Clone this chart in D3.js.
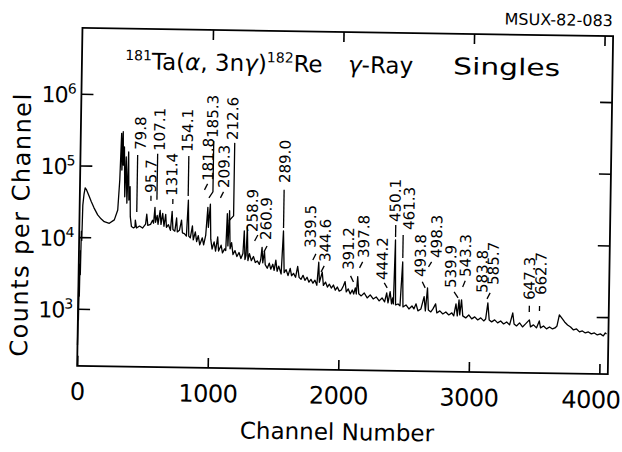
<!DOCTYPE html>
<html>
<head>
<meta charset="utf-8">
<script src="https://cdn.jsdelivr.net/npm/d3@7"></script>
<style>
  body { margin: 0; background: #fff; }
  svg { display: block; }
  text { font-family: "DejaVu Sans", sans-serif; fill: #000; }
</style>
</head>
<body>
<svg id="chart" width="622" height="452"></svg>
<script>
// gamma-ray singles spectrum (channel, counts per channel)
var channels = [0, 2, 4, 6, 8, 10, 13, 16, 20, 24, 32, 40, 51, 70, 88, 110, 139, 165, 190, 229, 267, 292,
    304, 313, 319, 325, 330, 336, 344, 351, 361, 369, 376, 384, 389, 399, 415, 426, 428, 438, 461, 484,
    507, 515, 524, 545, 560, 568, 577, 583, 595, 602, 617, 625, 637, 648, 660, 667, 682, 698, 709, 717,
    732, 744, 751, 767, 782, 790, 805, 821, 832, 839, 851, 866, 874, 889, 900, 912, 924, 943, 954, 969,
    982, 988, 1001, 1008, 1019, 1034, 1046, 1061, 1069, 1088, 1099, 1115, 1124, 1132, 1140, 1149, 1157,
    1168, 1180, 1195, 1210, 1226, 1241, 1256, 1264, 1272, 1280, 1287, 1295, 1306, 1321, 1337, 1352,
    1367, 1383, 1393, 1402, 1409, 1421, 1428, 1444, 1459, 1471, 1486, 1497, 1509, 1520, 1532, 1551,
    1564, 1574, 1589, 1604, 1620, 1631, 1646, 1662, 1677, 1689, 1704, 1719, 1734, 1750, 1765, 1780,
    1796, 1811, 1826, 1838, 1845, 1866, 1876, 1892, 1907, 1922, 1937, 1953, 1968, 1983, 1998, 2014,
    2029, 2042, 2052, 2067, 2083, 2098, 2109, 2121, 2129, 2138, 2148, 2167, 2190, 2213, 2236, 2259,
    2282, 2305, 2327, 2347, 2362, 2373, 2388, 2400, 2408, 2414, 2423, 2431, 2450, 2465, 2481, 2488,
    2511, 2534, 2557, 2572, 2588, 2603, 2626, 2649, 2660, 2674, 2683, 2702, 2718, 2738, 2748, 2771,
    2794, 2817, 2840, 2863, 2878, 2894, 2905, 2917, 2924, 2936, 2947, 2970, 2993, 3016, 3039, 3062,
    3085, 3108, 3123, 3138, 3150, 3169, 3192, 3215, 3238, 3261, 3284, 3307, 3330, 3341, 3360, 3383,
    3406, 3429, 3458, 3467, 3490, 3513, 3534, 3544, 3567, 3590, 3613, 3636, 3655, 3670, 3687, 3705,
    3728, 3751, 3774, 3797, 3820, 3843, 3865, 3888, 3911, 3934, 3957, 3980, 4003, 4026, 4041, 4050];
var counts = [313, 2400, 700, 4200, 1500, 6500, 3000, 12000, 9000, 28000, 40000, 48600, 45700, 37800,
    31500, 25800, 20600, 18200, 16600, 15800, 17700, 24400,
    64000, 286000, 88000, 302000, 103000, 186000, 37400, 135000, 30500, 158000, 33700, 51800, 19800,
    14400, 13800, 14200, 17800, 13800, 14700, 13800,
    15700, 21600, 15100, 15600, 17800, 16200, 27000, 16700, 20900, 15700, 24600, 15700, 22400, 14800,
    21700, 14300, 15600, 13000, 24000, 13400,
    12700, 19400, 12400, 13100, 18200, 12100, 11800, 10900, 34700, 10900, 10300, 15200, 9700, 12500,
    9200, 11100, 8300, 10400, 8300, 11400,
    27800, 14600, 30800, 10000, 7300, 9200, 6850, 10800, 6850, 8300, 6490, 7380, 7000, 22800, 8130,
    25200, 7400,
    9060, 6170, 7010, 5800, 6600, 5460, 6400, 13300, 5290, 6000, 15200, 5130, 6420, 5130, 5850, 4840,
    5090, 4560, 5300, 7890, 4800, 6970, 4530, 4050, 4760, 3930, 4610, 3800, 5260, 3690, 4360, 3390,
    13500, 3540, 3900, 3230, 4080, 3220, 3480, 3070, 4370, 3070, 2880, 3280, 2800, 3090, 2640, 2890,
    2560, 2820, 2400, 5030, 2650, 3660, 2400, 2670, 2280, 2500, 2210, 2440, 2070, 2290, 2010, 2090,
    2380, 2740, 1970, 2170, 1850, 2100, 1850, 2250, 1850, 3240, 1860, 1745, 1920, 1640, 1810, 1590,
    1700, 1500, 1650, 1455, 1945, 1410, 2030, 1370, 1660, 1371, 10700, 1330, 1370, 1290, 5310, 1250,
    1335, 1175, 1297, 1180, 1390, 1110, 1183, 1760, 1112, 2330, 1150, 1081, 1191, 1400, 1049, 1122,
    1019, 1088, 990, 1058, 961, 1415, 962, 1611, 995, 1613, 966, 907, 1000, 881, 941, 855,
    914, 831, 887, 1485, 861, 809, 863, 785, 838, 762, 814, 741, 1089, 766, 719, 794,
    699, 771, 879, 702, 750, 682, 855, 683, 729, 664, 708, 665, 688, 734, 1047, 952,
    838, 762, 716, 651, 673, 613, 633, 595, 615, 578, 597, 561, 581, 545, 601, 582];

// axis ticks
var xTickValues = [0, 1000, 2000, 3000, 4000];
var yTickValues = [1e3, 1e4, 1e5, 1e6];
var yTickExponents = ["3", "4", "5", "6"];

// peak energies (keV) written over the spectrum, where they sit and their leader marks
var peakLabels = ["79.8", "95.7", "107.1", "131.4", "154.1", "181.8", "185.3", "209.3", "212.6",
    "258.9", "260.9", "289.0", "339.5", "344.6", "391.2", "397.8", "444.2", "450.1", "461.3",
    "493.8", "498.3", "539.9", "543.3", "583.8", "585.7", "647.3", "662.7"];
var labelChannel = [461, 545, 606, 705, 820, 981, 1011, 1103, 1165, 1326, 1432, 1570, 1773, 1888,
    2067, 2182, 2327, 2419, 2526, 2618, 2740, 2852, 2963, 3093, 3177, 3456, 3544];
var labelCounts = [170000, 43000, 166000, 39400, 163000, 65000, 259000, 52300, 245000, 12900, 10000,
    63200, 7950, 5100, 3990, 5920, 2940, 19100, 14900, 3300, 6150, 2360, 3380, 2040, 2660, 1670, 1970];
var leaders = [
    [[438, 144000], [438, 23100]],
    [[545, 39000], [545, 33200]],
    [[591, 151000], [591, 34400]],
    [[713, 35700], [713, 30400]],
    [[830, 143000], [830, 39600]],
    [[954, 48500], [977, 59000]],
    [[1019, 235000], [1019, 45700], [989, 37600]],
    [[1077, 37900], [1100, 45900]],
    [[1180, 223000], [1180, 21400], [1145, 18200]],
    [[1344, 9660], [1368, 11700]],
    [[1417, 6820], [1440, 8270]],
    [[1564, 50600], [1564, 14900]],
    [[1792, 5400], [1815, 6580]],
    [[1880, 4490], [1857, 3700]],
    [[2083, 3300], [2106, 2720]],
    [[2174, 5200], [2151, 4290]],
    [[2342, 2680], [2365, 2290]],
    [[2423, 17300], [2423, 11800]],
    [[2481, 12600], [2481, 6040]],
    [[2633, 2830], [2656, 2330]],
    [[2702, 5390], [2679, 4580]],
    [[2878, 2080], [2909, 1720]],
    [[2962, 2980], [2943, 2450]],
    [],
    [[3154, 2050], [3131, 1690]],
    [[3456, 1380], [3456, 1135]],
    [[3534, 1385], [3534, 1178]]
];

var svg = d3.select("#chart");
// the scanned figure sits slightly tilted
var root = svg.append("g").attr("transform", "rotate(0.9, 344, 200)");

var plotLeft = 79.8, plotRight = 610.5, plotTop = 32, plotBottom = 370;

var x = d3.scaleLinear().domain([0, 4065]).range([plotLeft, plotRight]);
var y = d3.scaleLog().domain([160, 8.3e6]).range([plotBottom, plotTop]);

// ticks (all pointing into the frame)
var xb = root.append("g")
    .attr("transform", "translate(0," + plotBottom + ")")
    .call(d3.axisBottom(x).tickValues(xTickValues).tickSize(-10).tickPadding(17).tickFormat(d3.format("d")));
xb.selectAll("text")
    .style("font-size", "24px")
    .style("letter-spacing", "-0.5px");
// the last label runs up against the page edge in the scan
xb.selectAll("text").filter(function (d) { return d === 4000; })
    .attr("text-anchor", "end")
    .attr("x", 623 - x(4000));

root.append("g")
    .attr("transform", "translate(0," + plotTop + ")")
    .call(d3.axisTop(x).tickValues(xTickValues.slice(1)).tickSize(-10).tickFormat(""));

root.append("g")
    .attr("transform", "translate(" + plotLeft + ",0)")
    .call(d3.axisLeft(y).tickValues(yTickValues).tickSize(-12).tickFormat(""));

root.append("g")
    .attr("transform", "translate(" + plotRight + ",0)")
    .call(d3.axisRight(y).tickValues(yTickValues).tickSize(-12).tickFormat(""));

root.selectAll(".domain").remove();
root.selectAll(".tick line").attr("stroke", "#000").attr("stroke-width", 1.6);

// y tick labels as powers of ten
yTickValues.forEach(function (v, i) {
    var t = root.append("text")
        .attr("x", 74)
        .attr("y", y(v) + 9)
        .attr("text-anchor", "end")
        .style("font-size", "22px")
        .style("letter-spacing", "-1px");
    t.append("tspan").text("10");
    t.append("tspan").attr("dy", -9).style("font-size", "14px").text(yTickExponents[i]);
});

// frame
root.append("rect")
    .attr("x", plotLeft).attr("y", plotTop)
    .attr("width", plotRight - plotLeft).attr("height", plotBottom - plotTop)
    .attr("fill", "none").attr("stroke", "#000").attr("stroke-width", 1.8);

// spectrum
var spectrum = channels.map(function (c, i) { return [c, counts[i]]; });
var line = d3.line()
    .x(function (d) { return x(d[0]); })
    .y(function (d) { return y(d[1]); });

root.append("path")
    .datum(spectrum)
    .attr("d", line)
    .attr("fill", "none")
    .attr("stroke", "#000")
    .attr("stroke-width", 1.3)
    .attr("stroke-linejoin", "round");

// peak labels
var lab = root.append("g");
peakLabels.forEach(function (s, i) {
    lab.append("text")
        .attr("transform", "translate(" + x(labelChannel[i]) + "," + y(labelCounts[i]) + ") rotate(-90)")
        .attr("dominant-baseline", "central")
        .style("font-size", "15px")
        .text(s);
    if (leaders[i].length) {
        lab.append("path")
            .attr("d", line(leaders[i]))
            .attr("fill", "none")
            .attr("stroke", "#000")
            .attr("stroke-width", 1.3);
    }
});

// title
var title = root.append("text").attr("x", 123).attr("y", 72.5).style("font-size", "23px");
title.append("tspan").attr("dy", -9).style("font-size", "14px").text("181");
title.append("tspan").attr("dy", 9).text("Ta(");
title.append("tspan").style("font-style", "italic").text("α");
title.append("tspan").text(", 3n");
title.append("tspan").style("font-style", "italic").text("γ");
title.append("tspan").text(")");
title.append("tspan").attr("dy", -9).style("font-size", "14px").text("182");
title.append("tspan").attr("dy", 9).text("Re");

var title2 = root.append("text").attr("x", 346).attr("y", 72.5).style("font-size", "23px")
    .attr("textLength", 65).attr("lengthAdjust", "spacingAndGlyphs");
title2.append("tspan").style("font-style", "italic").text("γ");
title2.append("tspan").text("-Ray");

root.append("text").attr("x", 451).attr("y", 72.5).style("font-size", "23px")
    .attr("textLength", 107).attr("lengthAdjust", "spacingAndGlyphs")
    .text("Singles");

// axis titles
root.append("text")
    .attr("transform", "translate(21.4,229.6) rotate(-90)")
    .attr("text-anchor", "middle")
    .attr("dominant-baseline", "central")
    .style("font-size", "24px")
    .style("letter-spacing", "1.5px")
    .text("Counts per Channel");

root.append("text")
    .attr("x", 340.6)
    .attr("y", 440)
    .attr("text-anchor", "middle")
    .style("font-size", "23px")
    .text("Channel Number");

root.append("text")
    .attr("x", 610)
    .attr("y", 22)
    .attr("text-anchor", "end")
    .style("font-size", "16px")
    .text("MSUX-82-083");
</script>
</body>
</html>
